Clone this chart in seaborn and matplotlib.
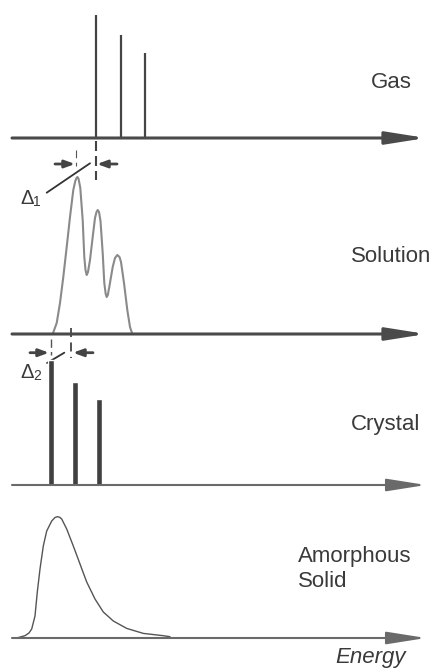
import numpy as np
import matplotlib.pyplot as plt
import seaborn as sns

sns.set_theme(style="white")
plt.rcParams["font.family"] = ["Liberation Sans", "DejaVu Sans"]

W, H = 433, 668

# energy in arbitrary units, intensity in arbitrary units
gas_energy = [84, 109, 133]
gas_intensity = [123, 103, 85]

solution_energy = [40.7, 44.7, 48, 51.3, 54.7, 58, 61.3, 63.3, 64.5, 65.5, 66.6, 68.3,
                   70.7, 72.3, 73.5, 74.7, 76, 78, 80.7, 83, 84.5, 85.7, 87, 88.5,
                   90.7, 92.3, 93.7, 94.7, 95.8, 97.3, 100.7, 103, 105.3, 107.5, 109,
                   112, 115.3, 118, 120.3]
solution_intensity = [0, 11, 31, 57, 87, 117, 144, 153, 156, 157, 155, 146,
                      114, 77, 64, 59, 62, 74, 97, 116, 122, 124, 122, 113,
                      81, 51, 40, 37, 39, 47, 67, 76, 79, 77, 72,
                      51, 24, 7, 0]

crystal_energy = [39, 63, 87]
crystal_intensity = [125, 103, 86]

amorphous_energy = [4.7, 13, 17, 19.7, 23, 25.3, 28, 31.3, 34.7, 39.7, 43, 45.3,
                    47.5, 49.7, 54.7, 61.3, 68, 74.7, 83, 91.3, 101.3, 114.7, 131.3,
                    151.3, 158]
amorphous_intensity = [0, 2.3, 5, 9, 22, 46, 69, 92, 107, 117, 120.5, 121.3,
                       120.8, 119, 109, 92, 74, 56, 39, 26, 17, 9.6, 4.6,
                       2.3, 1.3]

TXT = "#3a3a3a"
DARK = "#444444"

fig = plt.figure(figsize=(W / 100, H / 100), dpi=100)


def panel(base, below=80, above=160):
    ax = fig.add_axes([0, (H - base - below) / H, 1, (below + above) / H])
    return ax


def finish(ax, below=80, above=160):
    ax.set_xlim(-12, W - 12)
    ax.set_ylim(-below, above)
    ax.set_axis_off()
    ax.patch.set_alpha(0)


def energy_axis(ax, lw, color):
    ax.annotate("", xy=(414, 0), xytext=(0, 0),
                arrowprops=dict(arrowstyle="-|>,head_length=2.4,head_width=0.38",
                                lw=lw, color=color, shrinkA=0, shrinkB=0,
                                mutation_scale=10))


def small_arrow(ax, x0, x1, y):
    ax.annotate("", xy=(x1, y), xytext=(x0, y),
                arrowprops=dict(arrowstyle="-|>,head_length=0.6,head_width=0.22",
                                lw=2.0, color=DARK, shrinkA=0, shrinkB=0,
                                mutation_scale=10))


# gas
ax = panel(138)
ax.vlines(gas_energy, 0, gas_intensity, color=DARK, lw=1.6)
energy_axis(ax, 2.2, "#4a4a4a")
ax.vlines(84, -3, -42, color=DARK, lw=1.5, linestyles=(0, (4.8, 2.4)))
ax.vlines(64, -12, -28, color="#555555", lw=0.8, linestyles=(0, (7, 4)))
small_arrow(ax, 43, 63, -26)
small_arrow(ax, 105, 85, -26)
ax.plot([34.7, 78], [-54.7, -25.3], color="#333333", lw=1.3)
ax.text(8, -66, "Δ", fontsize=14.5, color=TXT)
ax.text(21.5, -68, "1", fontsize=10, color=TXT)
ax.text(358.7, 50, "Gas", fontsize=16, color=TXT)
finish(ax)

# solution
ax = panel(334)
sns.lineplot(x=solution_energy, y=solution_intensity, ax=ax, color="#8a8a8a", lw=1.5)
energy_axis(ax, 2.2, "#4a4a4a")
ax.vlines(39, -5, -21, color="#555555", lw=1.0, linestyles=(0, (6, 3)))
ax.vlines(59, 6, -24, color=DARK, lw=1.3, linestyles=(0, (5, 3)))
small_arrow(ax, 18, 37, -18.7)
small_arrow(ax, 81, 61, -18.7)
ax.plot([35, 52.3], [-29, -18.7], color="#333333", lw=1.3)
ax.text(8, -44, "Δ", fontsize=14.5, color=TXT)
ax.text(21.5, -46, "2", fontsize=10, color=TXT)
ax.text(338.7, 72, "Solution", fontsize=16, color=TXT)
finish(ax)

# crystal
ax = panel(485)
ax.bar(crystal_energy, crystal_intensity, width=6, color="#404040")
energy_axis(ax, 1.5, "#6a6a6a")
ax.text(338.7, 55, "Crystal", fontsize=16, color=TXT)
finish(ax)

# amorphous solid
ax = panel(638)
sns.lineplot(x=amorphous_energy, y=amorphous_intensity, ax=ax, color="#555555", lw=1.0)
energy_axis(ax, 1.5, "#6a6a6a")
ax.text(285.7, 76, "Amorphous", fontsize=16, color=TXT)
ax.text(285.7, 51, "Solid", fontsize=16, color=TXT)
ax.text(323, -25, "Energy", fontsize=16, color=TXT, style="italic")
finish(ax)

fig.savefig("out.png", dpi=100)
